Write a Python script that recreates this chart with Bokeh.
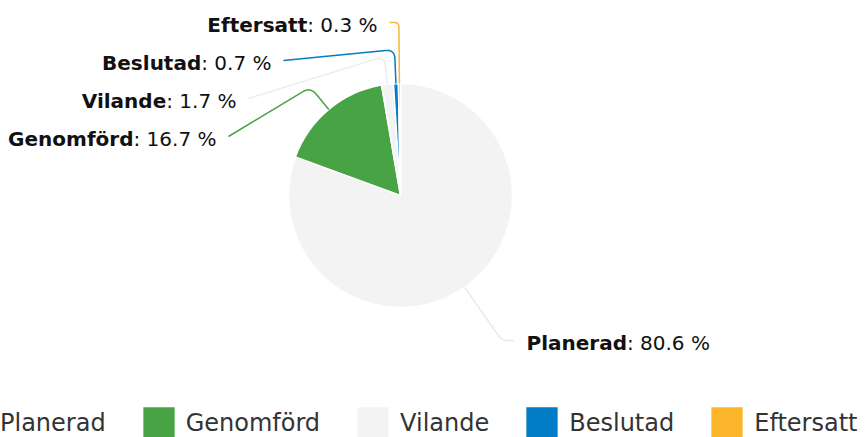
import numpy as np
from bokeh.plotting import figure
from bokeh.models import Range1d, Legend, LegendItem, ColumnDataSource
from bokeh.embed import file_html
from bokeh.resources import INLINE
from bokeh.core.properties import value

# ---------------- data ----------------
categories = ["Planerad", "Genomförd", "Vilande", "Beslutad", "Eftersatt"]
shares = [80.6, 16.7, 1.7, 0.7, 0.3]

# ---------------- style / layout ----------------
colors = ["#f3f3f3", "#48a345", "#f3f3f3", "#007dc5", "#fdb62b"]
conn_colors = ["#e9e9e9", "#48a345", "#ececec", "#007dc5", "#fdb62b"]
W, H = 865, 437
CX, CY = 400, 195          # pie centre (pixels)
R = 112                     # pie radius (pixels)
# connector end points (pixels), crook distance, side of label
conn_end = [(514, 340), (228, 136), (248, 98), (283, 60), (389, 22)]
crook = [65, 29, 28, 34, 61]
right_side = [True, False, False, False, False]
LABEL_GAP = 12
MID_DY = 2
FONT = "DejaVu Sans"
LBL_SIZE = 20

# DejaVu Sans advance widths (units of 1/2048 em) for width of label parts
REG_W = {':': 690, ' ': 651, '.': 651, '%': 1946, **{d: 1303 for d in "0123456789"}}
BOLD_W = {'P': 1499, 'l': 702, 'a': 1382, 'n': 1458, 'e': 1389, 'r': 1010, 'd': 1464,
          'G': 1683, 'o': 1403, 'm': 2134, 'f': 891, 'ö': 1403, 'V': 1583, 'i': 702,
          'B': 1561, 's': 1219, 'u': 1458, 't': 979, 'E': 1399, ':': 819, ' ': 713}


def text_w(s, table, size):
    return sum(table.get(c, 1250) for c in s) / 2048.0 * size


def to_data(px, py):
    return px - CX, CY - py


p = figure(width=W, height=H, output_backend="svg", toolbar_location=None,
           x_range=Range1d(-CX, W - CX), y_range=Range1d(CY - H, CY),
           x_axis_location=None, y_axis_location=None, min_border=0)
p.grid.visible = False
p.outline_line_color = None
p.background_fill_color = "white"

vals = np.array(shares, dtype=float)
frac = vals / vals.sum()
cum = np.concatenate([[0.0], np.cumsum(frac)])
th0 = 2 * np.pi * cum[:-1]
th1 = 2 * np.pi * cum[1:]
mid = (th0 + th1) / 2

src = ColumnDataSource(dict(cat=categories, start=np.pi / 2 - th0, end=np.pi / 2 - th1,
                            color=colors))
wr = p.wedge(x=0, y=0, radius=R, radius_units="screen", start_angle="start", end_angle="end",
             direction="clock", fill_color="color", line_color="white", line_width=1.5,
             source=src)

# connectors
xs, ys = [], []
for i in range(len(categories)):
    u = np.array([np.sin(mid[i]), np.cos(mid[i])])
    edge = R * u
    corner = edge + crook[i] * u
    end = np.array(to_data(*conn_end[i]))
    v = end - corner
    lv = np.linalg.norm(v)
    v = v / lv
    rr = min(9.0, crook[i] * 0.5, lv * 0.5)
    pa = corner - rr * u
    pb = corner + rr * v
    t = np.linspace(0, 1, 12)[:, None]
    curve = (1 - t) ** 2 * pa + 2 * (1 - t) * t * corner + t ** 2 * pb
    pts = np.vstack([edge, pa, curve, pb, end])
    xs.append(list(pts[:, 0]))
    ys.append(list(pts[:, 1]))
p.multi_line(xs=xs, ys=ys, line_color=conn_colors, line_width=1.5)

# labels
name_x, name_y, name_t, name_al = [], [], [], []
val_x, val_y, val_t, val_al = [], [], [], []
for i, c in enumerate(categories):
    ex, ey = to_data(*conn_end[i])
    by = ey - MID_DY
    vt = ": %.1f %%" % shares[i]
    if right_side[i]:
        x0 = ex + LABEL_GAP
        name_x.append(x0); name_al.append("left")
        val_x.append(x0 + text_w(c, BOLD_W, LBL_SIZE)); val_al.append("left")
    else:
        x1 = ex - LABEL_GAP
        val_x.append(x1); val_al.append("right")
        name_x.append(x1 - text_w(vt, REG_W, LBL_SIZE)); name_al.append("right")
    name_y.append(by); val_y.append(by)
    name_t.append(c); val_t.append(vt)

p.text(x=name_x, y=name_y, text=name_t, text_align=name_al, text_baseline="middle",
       text_font=value(FONT), text_font_style="bold", text_font_size="%dpx" % LBL_SIZE,
       text_color="#111111")
p.text(x=val_x, y=val_y, text=val_t, text_align=val_al, text_baseline="middle",
       text_font=value(FONT), text_font_style="normal", text_font_size="%dpx" % LBL_SIZE,
       text_color="#111111")

legend = Legend(items=[LegendItem(label=c, renderers=[wr], index=i) for i, c in enumerate(categories)],
                orientation="horizontal", location=(-48, -6),
                glyph_width=41, glyph_height=41, label_standoff=7, spacing=32,
                padding=0, margin=0, label_text_font=FONT, label_text_font_size="24px",
                label_text_color="#333333", label_text_baseline="middle",
                border_line_color=None, background_fill_alpha=0)
p.add_layout(legend)

open("out.html", "w").write(file_html(p, INLINE))
